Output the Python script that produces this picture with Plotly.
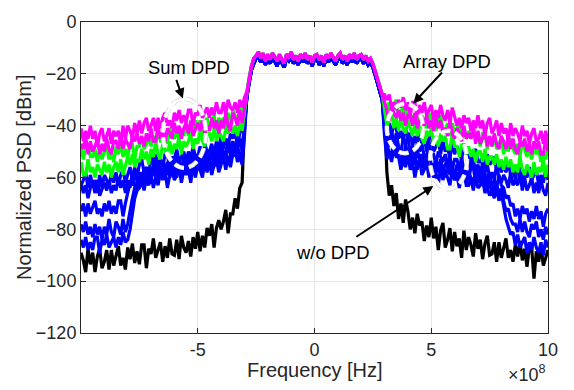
import numpy as np
import plotly.graph_objects as go

# Frequency grids, in units of 1e8 Hz (0.1e8 spacing)
f_left = np.round(np.linspace(-10.0, -3.0, 71), 1)   # lower adjacent band
f_pass = np.round(np.linspace(-2.9, 2.9, 59), 1)     # occupied band
f_right = np.round(np.linspace(3.0, 10.0, 71), 1)    # upper adjacent band

# In-band PSD [dBm]: upper traces (DPD) and lower traces
pass_hi = [-27, -21, -17, -14, -13, -11.5, -14, -12, -15, -12.5,
           -14.5, -12, -13.5, -15, -12.5, -14, -16, -12.5, -13.5, -11.5,
           -14.5, -13, -15, -12.5, -14, -12, -14.5, -13, -15.5, -13,
           -12.5, -14.5, -13, -15.5, -12.5, -14, -12, -13.5, -15, -13,
           -12, -14.5, -13, -15, -12.5, -14, -12, -14.5, -13, -12.5,
           -14.5, -13, -15, -14, -16, -19, -22, -25, -28]
pass_lo = [-29, -23, -18.5, -16, -14, -13.5, -15.5, -14, -16.5, -14,
           -16, -13.5, -15, -17, -14, -15.5, -17.5, -14, -15, -13.5,
           -16, -14.5, -16.5, -14, -15.5, -13.5, -16, -14.5, -17, -14.5,
           -14, -16.5, -14.5, -17, -14, -15.5, -13.5, -15, -16.5, -14.5,
           -13.5, -16, -14.5, -16.5, -14, -15.5, -13.5, -16, -14.5, -14,
           -16, -14.5, -16.5, -15.5, -17.5, -20.5, -24, -27, -30]

# ---- Sum DPD (magenta) ----
mag_a_left = [-41, -46, -42, -45, -40, -45, -42, -48, -43, -41,
              -46, -44, -41, -47, -42, -44, -42, -47, -40, -45,
              -40, -42, -45, -39, -43, -38, -43, -39, -37, -42,
              -40, -37, -42, -37, -41, -37, -35, -40, -38, -41,
              -35, -38, -34, -39, -36, -39, -34, -34, -40, -35,
              -36, -32, -37, -35, -33, -37, -33, -36, -31, -35,
              -35, -31, -36, -30, -33, -34, -31, -35, -30, -33,
              -29]
mag_a_right = [-28,
               -30, -28, -33, -31, -34, -30, -33, -29, -34, -31,
               -36, -31, -31, -37, -32, -35, -31, -36, -34, -32,
               -38, -34, -37, -32, -36, -38, -34, -39, -33, -36,
               -40, -37, -41, -36, -39, -37, -42, -38, -41, -36,
               -41, -38, -44, -39, -37, -43, -41, -38, -44, -39,
               -43, -41, -46, -39, -44, -41, -43, -46, -40, -44,
               -42, -47, -43, -41, -46, -45, -42, -47, -42, -46]
mag_b_left = [-47, -49, -44, -51, -46, -50, -48, -45, -51, -47,
              -50, -45, -49, -51, -46, -46, -49, -44, -49, -45,
              -47, -49, -44, -46, -43, -47, -44, -48, -43, -46,
              -41, -46, -46, -40, -45, -42, -46, -41, -43, -45,
              -39, -43, -40, -45, -41, -39, -43, -38, -44, -41,
              -39, -42, -38, -43, -40, -42, -37, -41, -38, -43,
              -38, -41, -35, -40, -42, -35, -37, -40, -34, -39,
              -33]
mag_b_right = [-30,
               -34, -38, -33, -35, -37, -34, -38, -35, -40, -36,
               -36, -40, -35, -41, -38, -37, -40, -36, -41, -38,
               -42, -37, -41, -38, -43, -41, -44, -38, -43, -45,
               -41, -43, -46, -40, -45, -43, -45, -40, -47, -42,
               -47, -45, -42, -48, -44, -48, -43, -47, -49, -44,
               -46, -49, -44, -49, -45, -49, -51, -46, -48, -45,
               -50, -47, -51, -46, -49, -46, -51, -51, -45, -50]

# ---- Array DPD (green) ----
grn_a_left = [-48, -53, -49, -47, -52, -52, -49, -54, -49, -53,
              -50, -48, -53, -51, -54, -48, -51, -47, -52, -49,
              -52, -47, -47, -53, -48, -48, -44, -49, -47, -45,
              -48, -44, -47, -42, -46, -46, -42, -47, -41, -44,
              -45, -42, -46, -41, -44, -39, -44, -40, -43, -38,
              -41, -38, -44, -39, -37, -41, -39, -36, -42, -37,
              -39, -37, -42, -35, -40, -34, -36, -39, -33, -37,
              -32]
grn_a_right = [-31,
               -34, -31, -37, -32, -30, -37, -35, -32, -38, -33,
               -38, -36, -41, -34, -39, -36, -38, -41, -35, -39,
               -37, -42, -38, -36, -41, -42, -39, -44, -39, -43,
               -41, -39, -44, -42, -45, -42, -45, -41, -46, -43,
               -48, -43, -43, -49, -44, -48, -44, -49, -47, -45,
               -51, -47, -50, -45, -49, -51, -47, -52, -46, -49,
               -52, -49, -53, -48, -51, -49, -54, -50, -53, -48]
grn_b_left = [-54, -59, -59, -53, -58, -56, -60, -55, -57, -59,
              -54, -58, -55, -60, -56, -54, -58, -53, -59, -56,
              -52, -55, -51, -56, -53, -54, -49, -53, -50, -55,
              -49, -52, -46, -51, -53, -47, -49, -52, -46, -51,
              -47, -49, -44, -51, -46, -48, -46, -43, -49, -45,
              -47, -42, -46, -48, -43, -43, -46, -41, -46, -42,
              -44, -46, -41, -43, -40, -43, -40, -44, -39, -42,
              -35]
grn_b_right = [-34,
               -40, -38, -35, -41, -37, -42, -37, -41, -43, -38,
               -41, -44, -39, -44, -40, -45, -47, -42, -44, -41,
               -47, -44, -48, -43, -46, -44, -49, -49, -43, -48,
               -48, -52, -47, -49, -51, -48, -52, -49, -54, -50,
               -50, -54, -49, -55, -52, -52, -55, -51, -56, -53,
               -57, -52, -56, -53, -58, -55, -58, -52, -57, -59,
               -55, -57, -60, -54, -59, -56, -58, -53, -60, -55]

# ---- Per-element DPD (blue) ----
blu_a_left = [-63, -61, -58, -64, -59, -63, -61, -66, -59, -64,
              -59, -61, -64, -58, -62, -58, -63, -59, -57, -62,
              -59, -56, -61, -56, -60, -55, -53, -58, -56, -59,
              -52, -55, -51, -56, -53, -56, -51, -51, -57, -52,
              -53, -49, -54, -52, -50, -54, -50, -53, -48, -52,
              -52, -48, -53, -47, -50, -50, -47, -51, -46, -49,
              -44, -49, -45, -48, -43, -45, -42, -48, -43, -41,
              -38]
blu_a_right = [-36,
               -43, -39, -44, -38, -41, -45, -42, -46, -41, -44,
               -43, -48, -44, -47, -42, -47, -44, -50, -45, -43,
               -50, -48, -45, -51, -46, -50, -48, -53, -46, -51,
               -48, -50, -53, -47, -51, -50, -55, -51, -49, -54,
               -54, -51, -56, -51, -55, -54, -52, -57, -55, -58,
               -55, -58, -54, -59, -56, -61, -56, -56, -62, -57,
               -60, -56, -61, -59, -57, -63, -59, -62, -57, -61]
blu_e_left = [-62, -66, -63, -68, -64, -62, -66, -61, -67, -64,
              -62, -65, -61, -66, -63, -65, -60, -64, -61, -66,
              -61, -64, -58, -63, -65, -58, -60, -63, -57, -62,
              -57, -59, -54, -61, -56, -59, -57, -54, -60, -56,
              -57, -52, -56, -58, -53, -53, -56, -51, -56, -52,
              -54, -56, -51, -53, -50, -53, -50, -54, -49, -52,
              -46, -51, -51, -45, -50, -46, -50, -45, -47, -49,
              -40]
blu_e_right = [-39,
               -44, -47, -42, -47, -43, -48, -50, -45, -47, -44,
               -51, -48, -52, -47, -50, -47, -52, -52, -46, -51,
               -51, -55, -50, -52, -54, -51, -55, -52, -57, -53,
               -53, -57, -52, -58, -55, -54, -57, -53, -58, -55,
               -59, -54, -58, -55, -60, -58, -61, -55, -60, -62,
               -59, -61, -64, -58, -63, -61, -63, -58, -65, -60,
               -65, -63, -60, -66, -62, -66, -61, -65, -67, -62]
blu_b_left = [-73, -70, -75, -70, -74, -71, -69, -74, -72, -75,
              -70, -73, -69, -74, -71, -74, -69, -69, -75, -70,
              -66, -62, -63, -59, -61, -62, -58, -61, -56, -60,
              -59, -55, -60, -54, -57, -58, -55, -59, -54, -57,
              -53, -58, -54, -57, -52, -55, -52, -58, -53, -51,
              -55, -53, -50, -56, -51, -53, -51, -56, -49, -54,
              -48, -50, -53, -47, -51, -46, -51, -47, -45, -50,
              -40]
blu_b_right = [-40,
               -49, -47, -44, -50, -45, -51, -49, -54, -47, -52,
               -50, -52, -55, -49, -53, -51, -56, -52, -50, -55,
               -56, -53, -58, -53, -57, -55, -53, -58, -56, -59,
               -55, -58, -54, -59, -56, -61, -56, -56, -62, -57,
               -61, -57, -62, -60, -58, -65, -61, -64, -59, -63,
               -64, -68, -67, -71, -70, -75, -72, -76, -71, -74,
               -72, -77, -73, -76, -71, -76, -73, -79, -74, -72]
blu_c_left = [-78, -81, -77, -82, -79, -83, -78, -82, -79, -84,
              -79, -82, -76, -81, -83, -77, -79, -82, -76, -81,
              -78, -72, -68, -64, -62, -62, -60, -57, -63, -59,
              -61, -56, -60, -62, -57, -57, -60, -55, -60, -56,
              -58, -60, -55, -57, -54, -58, -55, -59, -54, -57,
              -52, -57, -57, -51, -56, -53, -57, -52, -54, -56,
              -49, -53, -50, -55, -51, -48, -52, -47, -53, -50,
              -42]
blu_c_right = [-42,
               -46, -51, -51, -45, -50, -51, -55, -50, -52, -54,
               -51, -55, -52, -57, -53, -53, -57, -52, -58, -55,
               -55, -58, -54, -59, -56, -60, -55, -59, -56, -61,
               -58, -61, -55, -60, -62, -58, -60, -63, -57, -62,
               -61, -63, -58, -65, -60, -67, -65, -62, -68, -64,
               -69, -73, -72, -76, -78, -78, -81, -76, -81, -77,
               -81, -83, -78, -80, -77, -83, -80, -84, -79, -82]
blu_d_left = [-84, -87, -83, -88, -85, -88, -83, -83, -89, -84,
              -86, -82, -87, -85, -83, -87, -83, -86, -81, -85,
              -84, -80, -74, -68, -65, -64, -61, -65, -60, -63,
              -59, -64, -60, -63, -58, -61, -58, -64, -59, -57,
              -61, -59, -56, -62, -57, -59, -57, -62, -55, -60,
              -55, -57, -60, -54, -58, -54, -59, -55, -53, -58,
              -55, -52, -57, -52, -56, -51, -49, -54, -52, -55,
              -44]
blu_d_right = [-44,
               -53, -50, -54, -49, -52, -52, -57, -53, -56, -51,
               -57, -54, -60, -55, -53, -59, -57, -54, -60, -55,
               -60, -58, -63, -56, -61, -58, -60, -63, -57, -61,
               -59, -64, -60, -58, -63, -63, -60, -65, -60, -64,
               -63, -61, -66, -64, -67, -65, -68, -64, -69, -66,
               -72, -76, -79, -82, -81, -86, -82, -87, -85, -83,
               -89, -85, -88, -83, -87, -89, -85, -90, -84, -87]

# ---- Without DPD (black) ----
blk_left = [-89, -92, -96.5, -87.5, -93.5, -89, -96.5, -90.5, -87.5, -95,
            -92.5, -88, -95.5, -88, -94, -89.5, -86.5, -94, -91, -95.5,
            -87, -91.5, -85.5, -93, -88.5, -93.5, -86, -86, -95, -87.5,
            -89.5, -83.5, -91, -88, -85, -92.5, -86.5, -91, -83.5, -89.5,
            -90, -84, -91.5, -82.5, -87, -89, -84.5, -90.5, -83, -87.5,
            -81, -88.5, -82.5, -87, -79.5, -82.5, -78, -87, -79.5, -76.5,
            -80, -77, -72.5, -81.5, -74, -74, -68, -72, -64, -62,
            -40]
blk_right = [-36,
             -58, -67, -63, -71, -66, -76, -70, -77.5, -68.5, -73,
             -80, -75.5, -81.5, -74, -78.5, -77, -84.5, -78.5, -83, -75.5,
             -83.5, -79, -88, -80.5, -77.5, -87, -84, -79.5, -88.5, -81,
             -86.5, -83.5, -91, -80.5, -88, -83, -86, -90.5, -81.5, -87.5,
             -84, -91.5, -85.5, -82.5, -90, -89.5, -85, -92.5, -85, -91,
             -86.5, -83.5, -91, -88, -92.5, -86, -90.5, -84.5, -92, -87.5,
             -94.5, -87, -87, -99, -88.5, -92.5, -86.5, -94, -91, -88]

# Drawing order: black underneath, magenta on top
series = [
    ("#000000", blk_left, pass_lo, blk_right),
    ("#0000ff", blu_d_left, pass_lo, blu_d_right),
    ("#0000ff", blu_c_left, pass_lo, blu_c_right),
    ("#0000ff", blu_b_left, pass_lo, blu_b_right),
    ("#0000ff", blu_e_left, pass_lo, blu_e_right),
    ("#0000ff", blu_a_left, pass_lo, blu_a_right),
    ("#00ff00", grn_b_left, pass_hi, grn_b_right),
    ("#00ff00", grn_a_left, pass_hi, grn_a_right),
    ("#ff00ff", mag_b_left, pass_hi, mag_b_right),
    ("#ff00ff", mag_a_left, pass_hi, mag_a_right),
]

freq_hz = np.concatenate([f_left, f_pass, f_right]) * 1e8

fig = go.Figure()
for color, left, mid, right in series:
    if len(left) != len(f_left) or len(right) != len(f_right) or len(mid) != len(f_pass):
        raise ValueError("length mismatch")
    psd = list(left) + list(mid) + list(right)
    fig.add_trace(go.Scatter(x=freq_hz, y=psd, mode="lines",
                             line=dict(color=color, width=3.2),
                             showlegend=False, hoverinfo="skip"))

FONT = "Liberation Sans, Arial, Helvetica, sans-serif"
AX = "#262626"

fig.update_layout(
    width=574, height=390,
    margin=dict(l=81, r=26, t=13, b=57),
    plot_bgcolor="white", paper_bgcolor="white",
    showlegend=False,
    font=dict(family=FONT, size=18, color=AX),
)
fig.update_xaxes(
    range=[-1e9, 1e9],
    tickvals=[-5e8, 0, 5e8, 1e9], ticktext=["-5", "0", "5", "10"],
    ticks="inside", ticklen=5, tickcolor=AX, tickwidth=1,
    showline=True, linecolor=AX, linewidth=1, mirror="ticks",
    showgrid=True, gridcolor="#e6e6e6", gridwidth=1, zeroline=False,
    tickfont=dict(size=18, color=AX),
)
fig.update_yaxes(
    range=[-120, 0],
    tickvals=[-120, -100, -80, -60, -40, -20, 0],
    ticks="inside", ticklen=5, tickcolor=AX, tickwidth=1,
    showline=True, linecolor=AX, linewidth=1, mirror="ticks",
    showgrid=True, gridcolor="#e6e6e6", gridwidth=1, zeroline=False,
    tickfont=dict(size=18, color=AX),
)

# Highlight ellipses: white dashed outline with a faint grey edge
ellipses = [(-6.49e8, -4.65e8, -29.6, -56.3),
            (3.10e8, 4.65e8, -31.5, -50.6),
            (4.95e8, 6.53e8, -42.0, -64.5)]
for x0, x1, y0, y1 in ellipses:
    fig.add_shape(type="circle", xref="x", yref="y", x0=x0, x1=x1, y0=y0, y1=y1,
                  line=dict(color="#dcdcdc", width=4.5, dash="10px,5px"),
                  layer="above")
    fig.add_shape(type="circle", xref="x", yref="y", x0=x0, x1=x1, y0=y0, y1=y1,
                  line=dict(color="white", width=2.8, dash="10px,5px"),
                  layer="above")

# Arrows: (head x, head y, tail x, tail y)
arrows = [(-5.64e8, -29.5, -5.94e8, -21.75),
          (4.23e8, -31.4, 5.52e8, -18.9),
          (5.09e8, -63.3, 1.73e8, -83.25)]
for hx, hy, tx, ty in arrows:
    fig.add_annotation(x=hx, y=hy, ax=tx, ay=ty, xref="x", yref="y",
                       axref="x", ayref="y", text="", showarrow=True,
                       arrowhead=2, arrowsize=1, arrowwidth=2, arrowcolor="black")

labels = [("Sum DPD", -5.37e8, -17.6),
          ("Array DPD", 5.67e8, -15.1),
          ("w/o DPD", 0.81e8, -88.9)]
for txt, x, y in labels:
    fig.add_annotation(x=x, y=y, xref="x", yref="y", text=txt, showarrow=False,
                       font=dict(family=FONT, size=18.4, color="black"),
                       xanchor="center", yanchor="middle")

# Axis titles and exponent label
fig.add_annotation(x=0.5, y=-0.119, xref="paper", yref="paper",
                   text="Frequency [Hz]", showarrow=False,
                   font=dict(family=FONT, size=20, color=AX),
                   xanchor="center", yanchor="middle")
fig.add_annotation(x=-0.123, y=0.5, xref="paper", yref="paper",
                   text="Normalized PSD [dBm]", showarrow=False, textangle=-90,
                   font=dict(family=FONT, size=20, color=AX),
                   xanchor="center", yanchor="middle")
fig.add_annotation(x=1.0, y=-0.13, xref="paper", yref="paper",
                   text="\u00d710<sup>8</sup>", showarrow=False,
                   font=dict(family=FONT, size=18, color=AX),
                   xanchor="right", yanchor="middle")

fig.write_html("out.html")
